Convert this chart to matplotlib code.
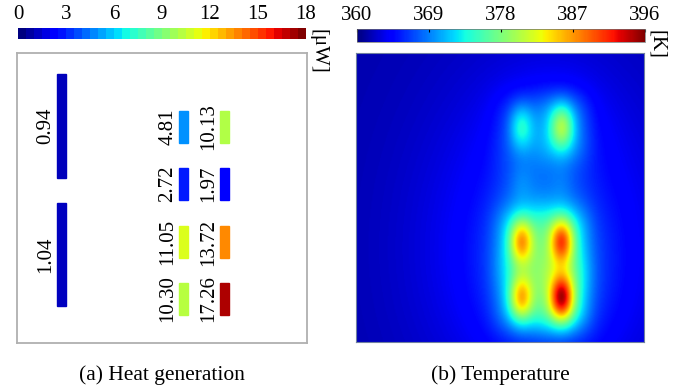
import matplotlib
matplotlib.use("Agg")
import matplotlib.pyplot as plt
import numpy as np
from matplotlib.patches import Rectangle
from matplotlib.colors import Normalize

plt.rcParams["font.family"] = ["Liberation Serif", "DejaVu Serif"]

# heat sources; positions in box units (0-100, y downward)
wire_vals = [0.94, 1.04]
wire_x = [13.8, 13.8]
wire_y = [7.2, 51.7]
wire_w = 3.1
wire_h = [35.9, 35.5]

col_vals_left = [4.81, 2.72, 11.05, 10.30]
col_vals_right = [10.13, 1.97, 13.72, 17.26]
col_x = [55.9, 70.0]
row_y = [20.0, 39.7, 59.7, 79.3]
pad_w = 3.1
pad_h = 11.0

# peak temperatures of the hot spots [K]
peak_left = [374.0, 369.5, 387.0, 386.0]
peak_right = [380.0, 369.0, 390.5, 394.8]
t_base = 361.5

cb1_ticks = [0, 3, 6, 9, 12, 15, 18]
cb2_ticks = [360, 369, 378, 387, 396]

W, H = 686, 391
fig = plt.figure(figsize=(6.86, 3.91), dpi=100)

def fx(px):
    return px / W

def fy(py):
    return 1 - py / H

jet = plt.get_cmap("jet")
norm_p = Normalize(0, 18)

# ---- panel (a) ----
ax1 = fig.add_axes([fx(17), fy(343), fx(290), 290 / H])
ax1.set_xlim(0, 100)
ax1.set_ylim(100, 0)
ax1.set_xticks([])
ax1.set_yticks([])
for s in ax1.spines.values():
    s.set_color("#b0b0b0")
    s.set_linewidth(1.3)

for v, x, y, h in zip(wire_vals, wire_x, wire_y, wire_h):
    ax1.add_patch(Rectangle((x, y), wire_w, h, color=jet(norm_p(v))))
    ax1.text(x - 4.0, y + h / 2, f"{v:.2f}", rotation=90, ha="center",
             va="center", fontsize=15)

for j, vals in enumerate([col_vals_left, col_vals_right]):
    for v, y in zip(vals, row_y):
        x = col_x[j]
        ax1.add_patch(Rectangle((x, y), pad_w, pad_h, color=jet(norm_p(v))))
        ax1.text(x - 3.8, y + pad_h / 2, f"{v:.2f}", rotation=90,
                 ha="center", va="center", fontsize=15)

# colorbar (a)
cax1 = fig.add_axes([fx(18), fy(39), fx(288), 11 / H])
sm1 = plt.cm.ScalarMappable(norm=norm_p, cmap=jet.resampled(36))
cb1 = fig.colorbar(sm1, cax=cax1, orientation="horizontal", ticks=cb1_ticks)
cb1.outline.set_visible(False)
cax1.xaxis.set_ticks_position("top")
cax1.tick_params(length=0, labelsize=15, pad=3)
fig.text(fx(318), fy(29), "[μW]", rotation=270, ha="center", va="top",
         fontsize=15)

# ---- panel (b) ----
n = 300
gx = np.linspace(0, 100, n)
gy = np.linspace(0, 100, n)
X, Y = np.meshgrid(gx, gy)

src = []
for j, (vals, peaks) in enumerate([(col_vals_left, peak_left),
                                   (col_vals_right, peak_right)]):
    for v, pk, y in zip(vals, peaks, row_y):
        src.append((col_x[j] + pad_w / 2, y + pad_h / 2, v, pk))

def gauss(cx, cy, sx, sy, xx, yy):
    return np.exp(-0.5 * (((xx - cx) / sx) ** 2 + ((yy - cy) / sy) ** 2))

def plate(cx, cy, sx, sy, xx, yy):
    return (np.exp(-np.abs((xx - cx) / sx) ** 3)
            * np.exp(-np.abs((yy - cy) / sy) ** 3))

def broad(xx, yy):
    t = t_base
    for cx, cy, v, pk in src:
        t = t + v * (0.38 * plate(cx, cy, 9.5, 12.0, xx, yy)
                     + 0.16 * gauss(cx, cy, 10, 12.5, xx, yy)
                     + 0.08 * gauss(cx, cy, 28, 32, xx, yy))
    return t

T = broad(X, Y)
for cx, cy, v, pk in src:
    amp = max(pk - broad(cx, cy), 0)
    T = T + amp * gauss(cx, cy, 2.9, 5.6, X, Y)

ax2 = fig.add_axes([fx(356), fy(342), fx(288), 289 / H])
ax2.imshow(T, cmap=jet, vmin=360, vmax=396, extent=(0, 100, 100, 0),
           interpolation="bilinear", aspect="auto")
ax2.set_xticks([])
ax2.set_yticks([])
for s in ax2.spines.values():
    s.set_color("#7080a0")
    s.set_linewidth(0.8)

cax2 = fig.add_axes([fx(357), fy(42), fx(288), 13 / H])
sm2 = plt.cm.ScalarMappable(norm=Normalize(360, 396), cmap=jet)
cb2 = fig.colorbar(sm2, cax=cax2, orientation="horizontal", ticks=cb2_ticks)
cb2.outline.set_linewidth(0.5)
cb2.outline.set_edgecolor("#707070")
cax2.xaxis.set_ticks_position("top")
cax2.tick_params(length=2, direction="in", labelsize=15, pad=3)
fig.text(fx(657), fy(30), "[K]", rotation=270, ha="center", va="top",
         fontsize=15)

fig.text(fx(162), fy(375), "(a) Heat generation", ha="center", va="center",
         fontsize=15.5)
fig.text(fx(500), fy(375), "(b) Temperature", ha="center", va="center",
         fontsize=15.5)

fig.savefig("out.png", dpi=100)
